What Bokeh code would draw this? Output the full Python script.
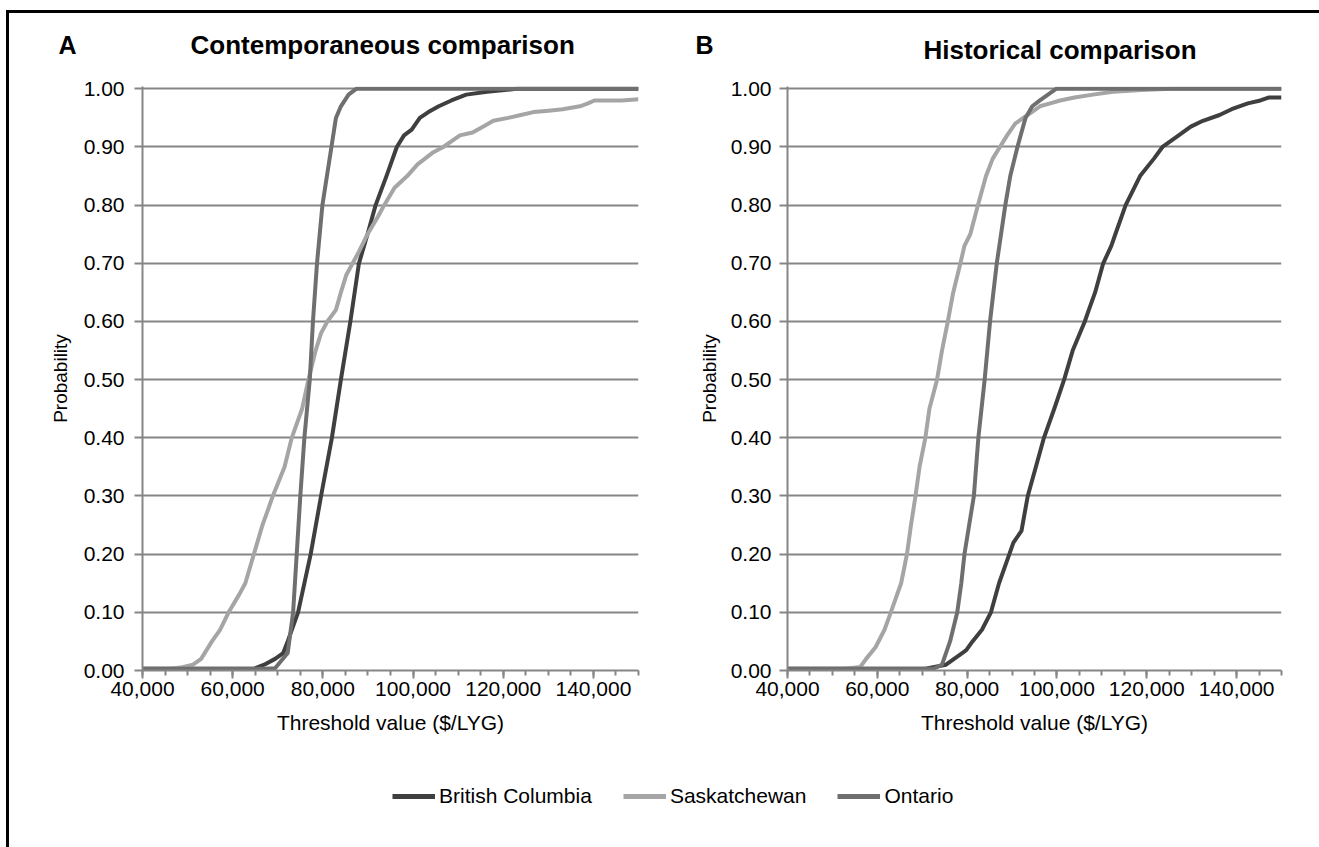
from bokeh.plotting import figure
from bokeh.models import (Range1d, SingleIntervalTicker, NumeralTickFormatter,
                          Legend, LegendItem, Div, ColumnDataSource)
from bokeh.core.properties import value
from bokeh.layouts import row, column
from bokeh.embed import file_html
from bokeh.resources import INLINE

FONT = "Liberation Sans"

# ---------------- data ----------------
series_names = ["British Columbia", "Saskatchewan", "Ontario"]
series_colors = ["#3f3f3f", "#a5a5a5", "#6f6f6f"]
panel_titles = ["Contemporaneous comparison", "Historical comparison"]
panel_letters = ["A", "B"]
x_label = "Threshold value ($/LYG)"
y_label = "Probability"

# Panel A (contemporaneous)
a_bc_x = [40000, 64700, 67000, 69400, 71200, 72200, 74500, 77300, 79600, 82000, 84000,
          86100, 88000, 89900, 91700, 94100, 96400, 98000, 99700, 101500, 103400, 105700,
          108500, 111800, 116400, 123000, 150000]
a_bc_y = [0.003, 0.003, 0.01, 0.02, 0.03, 0.05, 0.10, 0.20, 0.30, 0.40, 0.50,
          0.60, 0.70, 0.75, 0.80, 0.85, 0.90, 0.92, 0.93, 0.95, 0.96, 0.97,
          0.98, 0.99, 0.995, 1.00, 1.00]

a_sk_x = [40000, 46000, 48400, 51200, 53000, 55400, 57200, 59100, 61400, 62800, 64700,
          66600, 68000, 68900, 71500, 73100, 75400, 76800, 78400, 79600, 81000, 82900,
          84000, 85200, 86600, 88000, 89900, 92200, 93600, 95900, 98700, 101000, 104300,
          106700, 110400, 113200, 115500, 117800, 121100, 123900, 126700, 129500, 133200,
          137000, 138800, 140200, 146300, 150000]
a_sk_y = [0.003, 0.003, 0.005, 0.01, 0.02, 0.05, 0.07, 0.10, 0.13, 0.15, 0.20,
          0.25, 0.28, 0.30, 0.35, 0.40, 0.45, 0.50, 0.55, 0.58, 0.60, 0.62,
          0.65, 0.68, 0.70, 0.72, 0.75, 0.78, 0.80, 0.83, 0.85, 0.87, 0.89,
          0.90, 0.92, 0.925, 0.935, 0.945, 0.95, 0.955, 0.96, 0.962, 0.965,
          0.97, 0.975, 0.98, 0.98, 0.982]

a_on_x = [40000, 67000, 69400, 72200, 73400, 74200, 75000, 75900, 77100, 77800, 78700,
          79900, 81900, 82900, 84000, 85700, 87400, 150000]
a_on_y = [0.003, 0.003, 0.004, 0.03, 0.10, 0.20, 0.30, 0.40, 0.50, 0.60, 0.70,
          0.80, 0.90, 0.95, 0.97, 0.99, 1.00, 1.00]

# Panel B (historical)
b_bc_x = [40000, 70700, 75300, 77100, 78900, 79800, 81200, 83300, 85300, 87100, 89400,
          90300, 92100, 93500, 95300, 97100, 99400, 101600, 103500, 106200, 107100, 108500,
          110300, 112100, 113000, 115300, 118500, 121600, 123500, 127100, 129800, 132500,
          136200, 138900, 142500, 145300, 147100, 150000]
b_bc_y = [0.003, 0.003, 0.01, 0.02, 0.03, 0.035, 0.05, 0.07, 0.10, 0.15, 0.20,
          0.22, 0.24, 0.30, 0.35, 0.40, 0.45, 0.50, 0.55, 0.60, 0.62, 0.65,
          0.70, 0.73, 0.75, 0.80, 0.85, 0.88, 0.90, 0.92, 0.935, 0.945,
          0.955, 0.965, 0.975, 0.98, 0.985, 0.985]

b_sk_x = [40000, 52500, 56200, 57500, 59600, 61600, 63000, 65300, 66600, 67500, 68500,
          69400, 70700, 71600, 73300, 74400, 75700, 76900, 78500, 79400, 80700, 82400,
          84200, 85700, 87300, 88900, 90700, 92500, 94400, 96200, 98500, 100700, 103900,
          108000, 112500, 118900, 125300, 150000]
b_sk_y = [0.003, 0.003, 0.006, 0.02, 0.04, 0.07, 0.10, 0.15, 0.20, 0.25, 0.30,
          0.35, 0.40, 0.45, 0.50, 0.55, 0.60, 0.65, 0.70, 0.73, 0.75, 0.80,
          0.85, 0.88, 0.90, 0.92, 0.94, 0.95, 0.96, 0.97, 0.975, 0.98, 0.985,
          0.99, 0.995, 0.998, 1.00, 1.00]

b_on_x = [40000, 72500, 74400, 76200, 77800, 78700, 79400, 81500, 82500, 83900, 85100,
          86600, 88500, 89600, 91200, 93000, 94500, 96200, 98000, 99800, 150000]
b_on_y = [0.003, 0.003, 0.01, 0.05, 0.10, 0.15, 0.20, 0.30, 0.40, 0.50, 0.60,
          0.70, 0.80, 0.85, 0.90, 0.95, 0.97, 0.98, 0.99, 1.00, 1.00]

x_start, x_end = 40000, 150000
x_major, x_minor_count = 20000, 4
y_major = 0.1

AXIS_COLOR = "#868686"
TICK_FS = "21px"


def make_panel(xs, ys, width, height, mb_left, mb_right, mb_top, mb_bottom,
               lbl_standoff, ax_standoff):
    p = figure(width=width, height=height, output_backend="svg", toolbar_location=None,
               x_range=Range1d(x_start, x_end), y_range=Range1d(0, 1.004),
               min_border_left=mb_left, min_border_right=mb_right,
               min_border_top=mb_top, min_border_bottom=mb_bottom,
               background_fill_color="white", border_fill_color="white")
    p.outline_line_color = None
    p.xgrid.grid_line_color = None
    p.ygrid.grid_line_color = AXIS_COLOR
    p.ygrid.grid_line_width = 2

    for x, y, c in zip(xs, ys, series_colors):
        p.line(x, y, line_color=c, line_width=4, line_join="round")

    xa = p.xaxis[0]
    xa.ticker = SingleIntervalTicker(interval=x_major, num_minor_ticks=x_minor_count)
    xa.formatter = NumeralTickFormatter(format="0,0")
    xa.axis_label = x_label
    ya = p.yaxis[0]
    ya.ticker = SingleIntervalTicker(interval=y_major, num_minor_ticks=0)
    ya.formatter = NumeralTickFormatter(format="0.00")
    ya.axis_label = y_label

    for ax in (xa, ya):
        ax.axis_line_color = AXIS_COLOR
        ax.axis_line_width = 2
        ax.major_tick_line_color = AXIS_COLOR
        ax.major_tick_line_width = 2
        ax.major_tick_in = 0
        ax.major_tick_out = 8
        ax.major_label_text_font = FONT
        ax.major_label_text_font_size = TICK_FS
        ax.major_label_text_color = "black"
        ax.axis_label_text_font = FONT
        ax.axis_label_text_font_style = "normal"
        ax.axis_label_text_color = "black"
    xa.minor_tick_line_color = AXIS_COLOR
    xa.minor_tick_line_width = 2
    xa.minor_tick_in = 0
    xa.minor_tick_out = 5
    xa.major_label_standoff = 3
    xa.axis_label_standoff = 12
    xa.axis_label_text_font_size = "21px"
    ya.minor_tick_line_color = None
    ya.major_label_standoff = lbl_standoff
    ya.axis_label_standoff = ax_standoff
    ya.axis_label_text_font_size = "19px"
    return p


# page layout (body margin is 0 in Bokeh's template)
LEFT_GAP, BAR = 6, 3
TOP_GAP = 10
CONTENT_X = LEFT_GAP + BAR            # 9
CONTENT_Y = TOP_GAP + BAR             # 13
A_W, B_W = 686, 624
HDR_H = 58
PANEL_H = 742 - HDR_H
LEG_H = 92

# header with panel letters and titles
hdr_w = A_W + B_W
hdr = figure(width=hdr_w, height=HDR_H, output_backend="svg", toolbar_location=None,
             x_range=Range1d(0, hdr_w), y_range=Range1d(HDR_H, 0),
             x_axis_type=None, y_axis_type=None, min_border=0,
             background_fill_color="white", border_fill_color="white")
hdr.outline_line_color = None
hdr.grid.visible = False
letter_x = [58 - CONTENT_X, 695 - CONTENT_X]
letter_y = [44 - CONTENT_Y, 44 - CONTENT_Y]
title_x = [190 - CONTENT_X, 923 - CONTENT_X]
title_y = [44 - CONTENT_Y, 49 - CONTENT_Y]
hdr.text(x=letter_x, y=letter_y, text=panel_letters, text_font=value(FONT),
         text_font_size="25px", text_font_style="bold", text_color="black",
         text_align="left", text_baseline="middle")
hdr.text(x=title_x, y=title_y, text=panel_titles, text_font=value(FONT),
         text_font_size="26px", text_font_style="bold", text_color="black",
         text_align="left", text_baseline="middle")

# frame A: x 142..638, top(1.00) 85, bottom 674 ; frame B: x 782..1281, top 88, bottom 670
pA = make_panel([a_bc_x, a_sk_x, a_on_x], [a_bc_y, a_sk_y, a_on_y],
                A_W, PANEL_H, 142 - CONTENT_X, 57, 83 - CONTENT_Y - HDR_H, 81, 10, 10)
pB = make_panel([b_bc_x, b_sk_x, b_on_x], [b_bc_y, b_sk_y, b_on_y],
                B_W, PANEL_H, 782 - CONTENT_X - A_W, 38, 86 - CONTENT_Y - HDR_H, 85, 8, 8)

# legend strip
pL = figure(width=hdr_w, height=LEG_H, output_backend="svg", toolbar_location=None,
            x_range=Range1d(0, 1), y_range=Range1d(0, 1),
            x_axis_type=None, y_axis_type=None, min_border=0,
            background_fill_color="white", border_fill_color="white")
pL.outline_line_color = None
items = []
for name, c in zip(series_names, series_colors):
    src = ColumnDataSource(data=dict(x=[float("nan")], y=[float("nan")]))
    r = pL.line(x="x", y="y", source=src, line_color=c, line_width=5)
    items.append(LegendItem(label=name, renderers=[r]))
leg = Legend(items=items, location=(392 - CONTENT_X, 39), orientation="horizontal",
             padding=0, margin=0, spacing=31, label_standoff=4,
             glyph_width=43, glyph_height=24, label_height=24,
             border_line_color=None, background_fill_alpha=0,
             label_text_font=FONT, label_text_font_size="21px", label_text_color="black")
pL.add_layout(leg)

TOTAL_H = CONTENT_Y + 742 + LEG_H
top_gap = Div(text="", width=1319, height=TOP_GAP, margin=(0, 0, 0, 0))
top_bar = Div(text="", width=1319 - LEFT_GAP, height=BAR, margin=(0, 0, 0, 0),
              styles={"background-color": "black"})
left_gap = Div(text="", width=LEFT_GAP, height=TOTAL_H - TOP_GAP, margin=(0, 0, 0, 0))
left_bar = Div(text="", width=BAR, height=TOTAL_H - CONTENT_Y, margin=(0, 0, 0, 0),
               styles={"background-color": "black"})

layout = column(top_gap,
                row(left_gap,
                    column(top_bar,
                           row(left_bar, column(hdr, row(pA, pB), pL)))))

open("out.html", "w").write(file_html(layout, INLINE))
